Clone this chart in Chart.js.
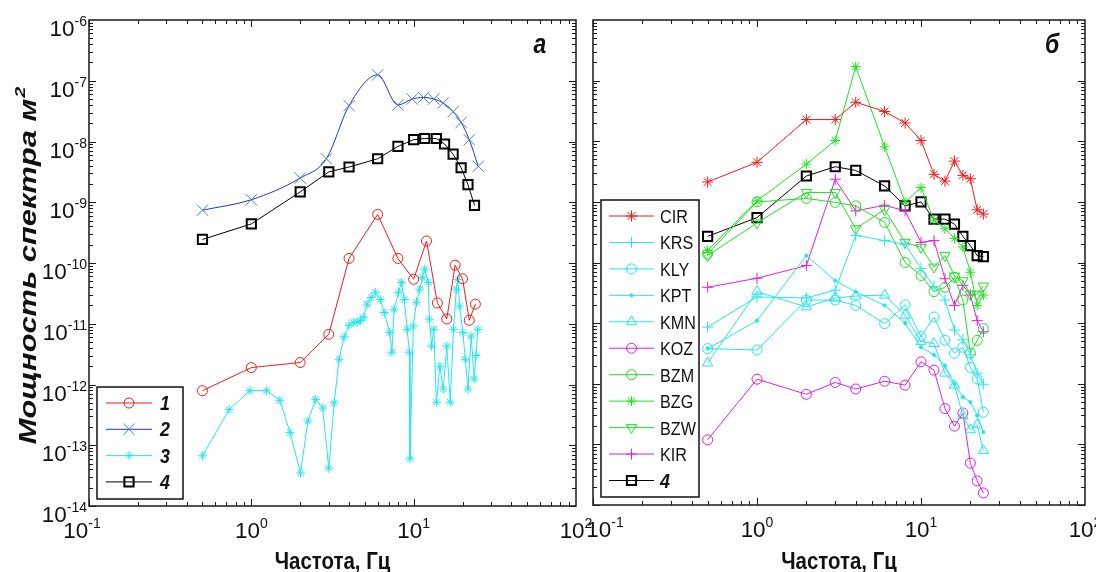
<!DOCTYPE html>
<html>
<head>
<meta charset="utf-8">
<script src="https://cdn.jsdelivr.net/npm/chart.js@4.4.0/dist/chart.umd.min.js"></script>
<style>
  html, body { margin: 0; padding: 0; background: #fff; }
  #wrap { position: relative; width: 1096px; height: 572px; overflow: hidden; }
  canvas { position: absolute; left: 0; top: 0; }
</style>
</head>
<body>
<div id="wrap">
  <canvas id="chartA" width="1096" height="572"></canvas>
  <canvas id="chartB" width="1096" height="572"></canvas>
</div>
<script>
// ---- panel "а" ----
const freq1 = [0.5, 1, 2, 3, 4, 6, 8, 10, 12, 14, 16, 18, 20, 22, 24];
const pow1 = [7.9e-13, 1.9e-12, 2.3e-12, 6.7e-12, 1.19e-10, 6.3e-10, 1.19e-10, 5.4e-11, 2.3e-10, 2.2e-11, 1.2e-11, 9.2e-11, 5.5e-11, 1.14e-11, 2.1e-11];

const freq2 = [0.5, 1, 2, 2.9, 4, 6, 8, 9.8, 11.5, 13.3, 15.2, 17.5, 19.6, 22, 25];
const pow2 = [7.4e-10, 1.1e-9, 2.5e-9, 5.2e-9, 3.9e-8, 1.25e-7, 4.0e-8, 5.0e-8, 5.3e-8, 5.0e-8, 4.3e-8, 3.1e-8, 2.06e-8, 1.07e-8, 3.9e-9];

const freq3 = [0.5, 0.73, 0.98, 1.24, 1.5, 1.73, 2.01, 2.23, 2.49, 2.75,
  3.0, 3.24, 3.47, 3.73, 4.0, 4.25, 4.49, 4.71, 4.89, 5.17,
  5.47, 5.81, 6.23, 6.59, 7.11, 7.34, 7.58, 8.07, 8.41, 8.75,
  9.12, 9.41, 9.49, 9.95, 10.4, 10.9, 11.3, 11.7, 12.3, 12.5,
  12.9, 13.3, 13.8, 14.5, 15.2, 16.0, 16.8, 17.6, 18.3, 18.7,
  19.2, 20.1, 20.8, 21.6, 22.6, 23.6, 24.2, 24.9];
const pow3 = [6.7e-14, 3.85e-13, 7.9e-13, 7.9e-13, 5.5e-13, 1.63e-13, 3.5e-14, 2.5e-13, 5.65e-13, 4.1e-13,
  4.2e-14, 5.0e-13, 2.6e-12, 6.1e-12, 9.4e-12, 1.06e-11, 1.05e-11, 1.14e-11, 1.26e-11, 2.1e-11,
  2.7e-11, 3.3e-11, 2.5e-11, 1.53e-11, 7.2e-12, 3.4e-12, 1.73e-11, 3.3e-11, 4.8e-11, 2.5e-11,
  8.1e-12, 3.4e-12, 6.0e-14, 9.2e-12, 2.25e-11, 3.7e-11, 5.8e-11, 7.9e-11, 4.8e-11, 1.19e-11,
  4.3e-12, 8.1e-12, 5.1e-13, 2.0e-12, 8.4e-13, 4.3e-12, 5.1e-13, 8.1e-12, 3.7e-11, 5.4e-11,
  1.96e-11, 7.2e-12, 2.6e-12, 8.4e-13, 6.3e-12, 1.23e-12, 3.0e-12, 8.1e-12];

const freq4 = [0.5, 1, 2, 3, 4, 6, 8, 10, 11.7, 13.8, 15.5, 17.5, 19.6, 21.6, 23.7];
const pow4 = [2.44e-10, 4.4e-10, 1.48e-9, 3.16e-9, 3.8e-9, 5.2e-9, 8.3e-9, 1.07e-8, 1.12e-8, 1.12e-8, 9.1e-9, 6.2e-9, 3.7e-9, 1.95e-9, 8.9e-10];

// ---- panel "б" ----
const freqSt = [0.5, 1, 2, 3, 4, 6, 8, 10, 12, 14, 16, 18, 20, 22, 24];
const powCIR = [2.13e-9, 4.5e-9, 2.28e-8, 2.28e-8, 4.4e-8, 3.1e-8, 2.0e-8, 1.03e-8, 2.85e-9, 2.2e-9, 4.7e-9, 2.74e-9, 2.4e-9, 7.4e-10, 6.3e-10];
const powKRS = [8.6e-12, 2.7e-11, 2.6e-11, 3.5e-11, 2.8e-10, 2.3e-10, 2.0e-10, 8e-11, 4e-11, 2.4e-11, 7.7e-12, 5.3e-12, 3e-12, 1.5e-12, 9.8e-13];
const powKLY = [3.8e-12, 3.6e-12, 2.4e-11, 2.4e-11, 1.96e-11, 9.8e-12, 2.0e-11, 6e-12, 1.26e-11, 5.2e-12, 3.2e-12, 4e-12, 1.86e-12, 1.2e-12, 3.4e-13];
const powKPT = [3.8e-12, 1.1e-11, 1.3e-10, 5e-11, 3.3e-11, 1.96e-11, 1.0e-11, 4e-12, 3e-12, 2e-12, 1e-12, 6e-13, 5e-13, 3e-13, 1.6e-13];
const powKMN = [2.2e-12, 3.3e-11, 1.85e-11, 2.6e-11, 2.8e-11, 2.9e-11, 1.35e-11, 5e-12, 4.6e-12, 1.5e-12, 9.5e-13, 3e-13, 1.74e-13, 2.1e-13, 7.9e-14];
const powKOZ = [1.19e-13, 1.19e-12, 6.7e-13, 1.05e-12, 8.2e-13, 1.1e-12, 9.5e-13, 2.3e-12, 1.68e-12, 3.9e-13, 2.0e-13, 3.3e-13, 4.9e-14, 2.5e-14, 1.58e-14];
const powBZM = [1.38e-10, 1.0e-9, 1.14e-9, 9.8e-10, 8.6e-10, 4.6e-10, 1.0e-10, 6.1e-11, 3.3e-11, 3.9e-11, 5.7e-11, 2.4e-11, 3.2e-12, 5.2e-12, 8.1e-12];
const powBZG = [1.58e-10, 1.04e-9, 4.2e-9, 1.03e-8, 1.71e-7, 8.1e-9, 9.9e-10, 1.72e-9, 5e-10, 3.6e-10, 2.5e-10, 1.8e-10, 6.9e-11, 1.96e-11, 2.9e-11];
const powBZW = [1.3e-10, 4.5e-10, 1.43e-9, 1.43e-9, 3.6e-10, 7.5e-10, 2.15e-10, 1.78e-10, 8.4e-11, 1.3e-10, 6e-11, 5e-11, 3e-11, 3e-11, 4.1e-11];
const powKIR = [3.9e-11, 5.5e-11, 8.9e-11, 2.36e-9, 7.1e-10, 8.8e-10, 7.1e-10, 2.15e-10, 2.3e-10, 5.4e-11, 1.96e-11, 4.2e-11, 2.9e-11, 1.1e-11, 7.2e-12];
const powAvg = [2.7e-10, 5.5e-10, 2.67e-9, 3.8e-9, 3.3e-9, 1.83e-9, 8.6e-10, 1.0e-9, 5.2e-10, 5.2e-10, 4.3e-10, 2.7e-10, 1.9e-10, 1.3e-10, 1.25e-10];

// tick labels (powers of ten)
const xExp = [-1, 0, 1, 2];
const yExp = [-6, -7, -8, -9, -10, -11, -12, -13, -14];

const RED = '#ee1c1c', BLUE = '#2233cc', CYAN = '#22e6ee', GREEN = '#22e022', MAG = '#e020e0', BLACK = '#000';
const NONE = 'rgba(0,0,0,0)';
const FONT = '"Liberation Sans", Arial, sans-serif';
const SX = 0.85;

function pts(fs, vs) {
  return fs.map(function (f, i) { return { x: f, y: vs[i] }; });
}

function line(label, fs, vs, color, style, r, extra) {
  return Object.assign({
    label: label,
    data: pts(fs, vs),
    borderColor: color,
    backgroundColor: NONE,
    borderWidth: 1,
    pointStyle: style,
    pointRadius: r,
    pointHoverRadius: r,
    pointBorderColor: color,
    pointBackgroundColor: NONE,
    pointBorderWidth: 1,
    tension: 0
  }, extra || {});
}

function txt(ctx, s, x, y, font, align, sx) {
  ctx.save();
  ctx.font = font;
  const w = ctx.measureText(s).width * sx;
  const x0 = align === 'center' ? x - w / 2 : align === 'right' ? x - w : x;
  ctx.translate(x0, y);
  ctx.scale(sx, 1);
  ctx.textAlign = 'left';
  ctx.textBaseline = 'alphabetic';
  ctx.fillText(s, 0, 0);
  ctx.restore();
  return w;
}

function measure(ctx, s, font, sx) {
  ctx.font = font;
  return ctx.measureText(s).width * sx;
}

function powLabel(ctx, e, x, y, align) {
  const bf = '22px ' + FONT, ef = '14px ' + FONT;
  const s = String(e);
  const wb = measure(ctx, '10', bf, 1.02), we = measure(ctx, s, ef, 1);
  const x0 = align === 'right' ? x - wb - we : x - (wb + we) / 2;
  txt(ctx, '10', x0, y, bf, 'left', 1.02);
  txt(ctx, s, x0 + wb, y - 10, ef, 'left', 1);
}

// axes box, inward ticks, labels, titles and the legend box
const decor = {
  id: 'decor',
  afterDatasetsDraw(chart, args, o) {
    const ctx = chart.ctx, a = chart.chartArea;
    const xs = chart.scales.x, ys = chart.scales.y;
    ctx.save();
    ctx.strokeStyle = '#1a1a1a';
    ctx.fillStyle = '#111';
    ctx.lineWidth = 1;
    ctx.beginPath();
    for (let d = -1; d < 2; d++) {
      for (let m = 1; m < 10; m++) {
        const px = Math.round(xs.getPixelForValue(m * Math.pow(10, d))) + 0.5;
        const len = m === 1 ? 7 : 4;
        ctx.moveTo(px, a.bottom); ctx.lineTo(px, a.bottom - len);
        ctx.moveTo(px, a.top); ctx.lineTo(px, a.top + len);
      }
    }
    for (let d = -14; d < -6; d++) {
      for (let m = 1; m < 10; m++) {
        const py = Math.round(ys.getPixelForValue(m * Math.pow(10, d))) + 0.5;
        const len = m === 1 ? 7 : 4;
        ctx.moveTo(a.left, py); ctx.lineTo(a.left + len, py);
        ctx.moveTo(a.right, py); ctx.lineTo(a.right - len, py);
      }
    }
    ctx.stroke();
    ctx.lineWidth = 1.5;
    ctx.strokeRect(a.left, a.top, a.right - a.left, a.bottom - a.top);

    xExp.forEach(function (e, i) {
      const shift = i === 0 ? o.firstShift : 0;
      powLabel(ctx, e, xs.getPixelForValue(Math.pow(10, e)) + shift, a.bottom + 32, 'center');
    });
    if (o.yLabels) {
      yExp.forEach(function (e) {
        powLabel(ctx, e, a.left - 2, ys.getPixelForValue(Math.pow(10, e)) + 16, 'right');
      });
    }
    txt(ctx, 'Частота, Гц', (a.left + a.right) / 2, 569, 'bold 24px ' + FONT, 'center', SX);
    txt(ctx, o.letter, o.letterX, 53, 'bold italic 27px ' + FONT, 'center', SX);

    if (o.yTitle) {
      ctx.save();
      ctx.translate(28, 266);
      ctx.rotate(-Math.PI / 2);
      ctx.scale(1.1, 0.84);
      ctx.font = 'bold italic 28px ' + FONT;
      ctx.textBaseline = 'middle';
      const main = 'Мощность спектра м';
      const w = ctx.measureText(main).width;
      ctx.font = 'bold italic 18px ' + FONT;
      const w2 = ctx.measureText('2').width;
      const x0 = -(w + w2) / 2;
      ctx.font = 'bold italic 28px ' + FONT;
      ctx.fillText(main, x0, 2);
      ctx.font = 'bold italic 18px ' + FONT;
      ctx.fillText('2', x0 + w + 1, -9);
      ctx.restore();
    }

    // legend
    const L = o.legend;
    ctx.fillStyle = '#fff';
    ctx.fillRect(L.x1, L.y1, L.x2 - L.x1, L.y2 - L.y1);
    ctx.strokeStyle = '#111';
    ctx.lineWidth = 1.5;
    ctx.strokeRect(L.x1, L.y1, L.x2 - L.x1, L.y2 - L.y1);
    chart.data.datasets.forEach(function (ds, i) {
      const y = L.y0 + i * L.dy;
      ctx.strokeStyle = ds.borderColor;
      ctx.lineWidth = 1;
      ctx.beginPath();
      ctx.moveTo(L.lx1, y); ctx.lineTo(L.lx2, y);
      ctx.stroke();
      ctx.fillStyle = ds.pointBackgroundColor;
      ctx.strokeStyle = ds.pointBorderColor;
      ctx.lineWidth = ds.pointBorderWidth;
      Chart.helpers.drawPoint(ctx, {
        pointStyle: ds.pointStyle, rotation: ds.pointRotation || 0,
        radius: ds.pointRadius, borderWidth: ds.pointBorderWidth
      }, (L.lx1 + L.lx2) / 2, y);
      ctx.fillStyle = '#111';
      const bold = ds.label === '4' || L.bold;
      txt(ctx, ds.label, L.tx, y + 7, (bold ? 'bold italic 21px ' : '19px ') + FONT, 'left', SX);
    });
    ctx.restore();
  }
};

function baseOptions(pad, extra) {
  return {
    responsive: false,
    animation: false,
    devicePixelRatio: 1,
    layout: { padding: pad },
    scales: {
      x: { type: 'logarithmic', min: 0.1, max: 100, display: false },
      y: { type: 'logarithmic', min: 1e-14, max: 1e-6, display: false }
    },
    plugins: Object.assign({ legend: { display: false }, tooltip: { enabled: false } }, extra)
  };
}

new Chart(document.getElementById('chartA'), {
  type: 'line',
  data: {
    datasets: [
      line('1', freq1, pow1, RED, 'circle', 5),
      line('2', freq2, pow2, BLUE, 'crossRot', 8, { pointBorderColor: '#4a7fd0', cubicInterpolationMode: 'monotone' }),
      line('3', freq3, pow3, CYAN, 'star', 4.5),
      line('4', freq4, pow4, BLACK, 'rect', 6.5, { pointBorderWidth: 2 })
    ]
  },
  options: baseOptions({ left: 89, top: 20, right: 1096 - 576, bottom: 572 - 506 }, {
    decor: {
      yLabels: true, yTitle: true, letter: 'а', letterX: 540, firstShift: -7,
      legend: { x1: 97, y1: 387, x2: 183, y2: 499, y0: 403, dy: 26.3, lx1: 106, lx2: 152, tx: 160, bold: true }
    }
  }),
  plugins: [decor]
});

new Chart(document.getElementById('chartB'), {
  type: 'line',
  data: {
    datasets: [
      line('CIR', freqSt, powCIR, RED, 'star', 5.5),
      line('KRS', freqSt, powKRS, CYAN, 'cross', 5.5),
      line('KLY', freqSt, powKLY, CYAN, 'circle', 5),
      line('KPT', freqSt, powKPT, CYAN, 'circle', 1.6, { pointBackgroundColor: CYAN }),
      line('KMN', freqSt, powKMN, CYAN, 'triangle', 6),
      line('KOZ', freqSt, powKOZ, MAG, 'circle', 5),
      line('BZM', freqSt, powBZM, GREEN, 'circle', 5),
      line('BZG', freqSt, powBZG, GREEN, 'star', 5),
      line('BZW', freqSt, powBZW, GREEN, 'triangle', 6, { pointRotation: 180 }),
      line('KIR', freqSt, powKIR, MAG, 'cross', 5.5),
      line('4', freqSt, powAvg, BLACK, 'rect', 6.5, { pointBorderWidth: 2 })
    ]
  },
  options: baseOptions({ left: 593, top: 20, right: 1096 - 1085, bottom: 572 - 505 }, {
    decor: {
      yLabels: false, yTitle: false, letter: 'б', letterX: 1052, firstShift: 12,
      legend: { x1: 601, y1: 200, x2: 699, y2: 497, y0: 216, dy: 26.45, lx1: 609, lx2: 654, tx: 660, bold: false }
    }
  }),
  plugins: [decor]
});
</script>
</body>
</html>
